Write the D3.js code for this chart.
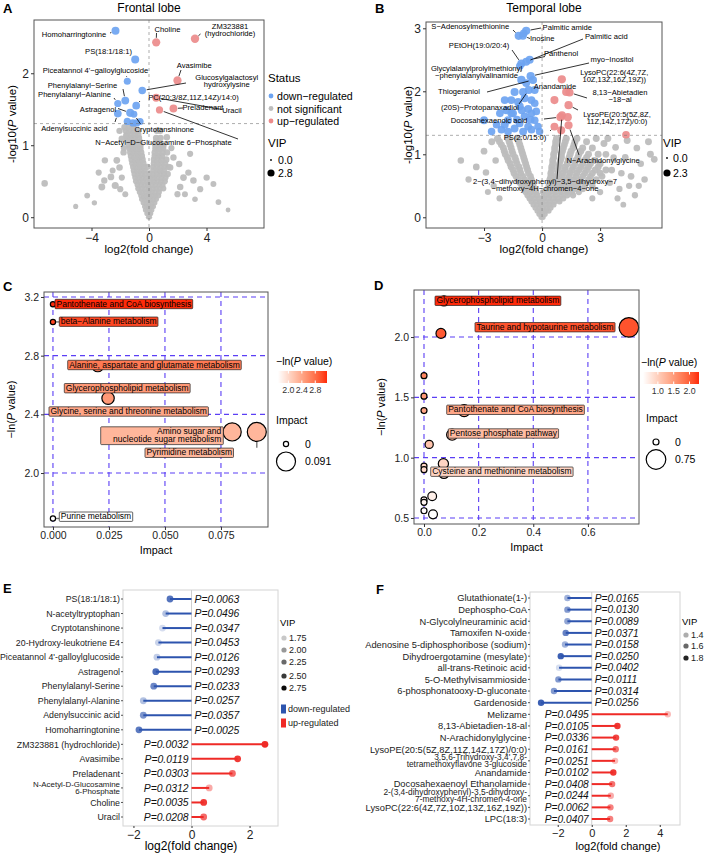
<!DOCTYPE html>
<html>
<head>
<meta charset="utf-8">
<script src="https://cdn.jsdelivr.net/npm/d3@7"></script>
<style>
  body { margin: 0; background: #fff; }
  svg { font-family: "Liberation Sans", Arial, sans-serif; }
</style>
</head>
<body>
<svg id="fig" width="705" height="855"></svg>
<script>
// ---------- data: A (frontal lobe volcano) ----------
// [log2FC, -log10P, VIP]
const downA = [[-2.33,2.59,2.5],[-0.96,2.19,2.5],[-1.51,1.89,1.9],[-0.47,1.76,2.2],[-1.65,1.62,2.4],[-2.17,1.58,2.0],
  [-0.89,1.55,2.3],[-1.31,1.45,2.6],[-1.05,1.43,1.8],[-2.17,1.44,2.3],[-1.51,1.33,2.0],[-1.12,1.31,2.1],[-0.62,1.33,1.9],[-0.85,1.31,2.0]];
const upA = [[0.5,2.43,2.7],[3.2,2.48,2.8],[1.98,1.90,2.7],[0.5,1.66,2.4],[1.70,1.51,2.4],[0.73,1.49,2.0]];
// grey cloud rows: [-log10P, VIP, log2FC values]
const greyRowsA = [
  [0.00,0.8,[-0.05,0.05]],[0.05,0.9,[-0.15,0,0.12]],[0.10,0.9,[-0.25,-0.1,0.05,0.2]],[0.15,1.0,[-0.3,-0.15,0,0.15,0.3]],
  [0.20,1.0,[-0.4,-0.2,0,0.2,0.4]],[0.25,1.1,[-0.5,-0.3,-0.1,0.1,0.3,0.5]],[0.30,1.2,[-0.55,-0.35,-0.15,0.05,0.25,0.45,0.65]],
  [0.35,1.2,[-0.65,-0.45,-0.2,0,0.2,0.45,0.7]],[0.40,1.3,[-0.75,-0.5,-0.25,0,0.25,0.5,0.75,1.0]],
  [0.45,1.3,[-0.8,-0.55,-0.3,-0.05,0.2,0.45,0.7,0.95]],[0.50,1.4,[-0.9,-0.65,-0.4,-0.15,0.1,0.35,0.6,0.85,1.1]],
  [0.55,1.4,[-0.95,-0.7,-0.45,-0.2,0.1,0.35,0.6,0.85,1.15]],[0.60,1.5,[-1.0,-0.75,-0.5,-0.25,0.05,0.3,0.55,0.8,1.05,1.3]],
  [0.65,1.5,[-1.05,-0.8,-0.55,-0.3,0.3,0.55,0.8,1.05]],[0.70,1.5,[-1.1,-0.85,-0.6,-0.35,-0.1,0.3,0.55,0.8,1.1,1.35]],
  [0.75,1.6,[-1.15,-0.9,-0.65,-0.4,0.35,0.6,0.85,1.1]],[0.80,1.6,[-1.2,-0.95,-0.7,-0.45,0.35,0.6,0.9,1.2]],
  [0.85,1.6,[-1.25,-1.0,-0.75,-0.5,0.4,0.65,0.9]],[0.90,1.6,[-1.3,-1.05,-0.8,-0.55,0.4,0.65,0.95,1.25]],
  [0.95,1.6,[-1.35,-1.1,-0.85,-0.6,0.45,0.7]],[1.00,1.6,[-1.4,-1.15,-0.9,-0.6,0.45,0.75,1.0]],
  [1.05,1.6,[-1.45,-1.2,-0.95,-0.65,0.5]],[1.10,1.6,[-1.5,-1.25,-1.0,-0.7,0.5,0.8]],[1.15,1.6,[-1.55,-1.3,-1.0,-0.75]],
  [1.20,1.6,[-1.6,-1.35,-1.05,-0.75,0.55]],[1.25,1.6,[-1.7,-1.4,-1.1]]
];
const greyOutA = [[-7.26,0.47,1.6],[-3.28,0.42,1.8],[-3.11,0.51,1.5],[-2.65,0.56,1.7],[-2.35,0.44,1.9],[-2.05,0.69,1.6],
  [-1.89,0.55,1.4],[-2.24,0.79,1.7],[-2.53,0.65,1.3],[-1.77,0.9,1.5],[-1.89,1.09,1.6],[-1.75,0.96,1.4],[-2.05,1.2,1.5],
  [-1.6,1.13,1.3],[2.4,0.55,1.7],[2.74,0.62,1.5],[3.09,0.51,1.6],[3.56,0.39,1.4],[4.01,0.55,1.5],[4.48,0.46,1.3],
  [4.83,0.21,1.2],[2.17,0.42,1.6],[1.98,0.32,1.4],[2.5,0.32,1.3],[1.47,0.69,1.6],[1.70,0.83,1.5],[1.24,1.11,1.6],
  [0.99,0.96,1.5],[0.78,1.2,1.6],[1.56,0.96,1.4],[-3.07,0.79,1.5],[-3.5,0.62,1.4],[-1.65,0.32,1.3],[-2.0,0.39,1.4],
  [2.86,0.88,1.4],[2.1,0.74,1.5],[-1.12,1.27,1.5],[-4.3,0.3,1.2],[-3.8,0.2,1.0],[3.2,0.25,1.1],[-5.1,0.15,0.9],[5.5,0.1,0.8]];

// ---------- data: B (temporal lobe volcano) ----------
const downB = [[-1.21,2.88,2.1],[-0.82,2.96,2.2],[-0.99,2.88,2.0],[-1.07,2.44,2.1],[-0.82,2.47,2.0],[-0.64,2.50,2.1],
  [-0.59,2.24,2.2],[-1.15,2.40,1.9],[-0.47,2.18,2.1],[-0.69,2.02,2.1],[-0.95,2.92,1.9],
  [-3.0,1.54,2.0],[-2.1,1.39,1.9],[-1.93,1.47,2.0],[-1.76,1.54,2.1],[-1.5,1.65,2.0],[-1.16,1.76,2.2],[-1.59,1.86,2.0],
  [-1.42,1.99,2.1],[-1.07,2.18,2.2],[-0.82,2.13,2.0],[-0.9,1.89,2.0],[-0.55,1.86,2.0],[-0.72,1.72,2.1],[-0.38,1.81,1.9],
  [-0.55,1.65,2.0],[-0.9,1.6,2.1],[-1.16,1.49,1.9],[-1.42,1.41,2.0],[-0.72,1.44,2.0],[-0.38,1.54,1.9],[-0.21,1.44,1.8],
  [-0.55,1.39,1.9],[-0.98,1.36,2.0],[-1.76,1.36,1.9],[-2.35,1.47,1.9],[-2.61,1.36,1.8],[-1.59,1.65,2.0],[-1.85,1.7,2.0],
  [-0.3,1.68,1.9],[-0.98,1.99,2.1],[-0.38,2.02,2.0],[-1.93,1.86,2.0],[-1.24,1.83,2.1],[-2.18,1.65,1.9],[-0.13,1.36,1.8],
  [-1.3,1.55,2.0],[-1.05,1.7,2.0],[-0.6,1.55,2.0]];
const upB = [[1.02,2.19,2.2],[1.25,1.99,2.2],[1.42,1.98,2.1],[1.37,1.78,2.2],[0.95,1.59,2.2],[0.64,1.44,2.0],
  [1.37,1.46,2.1],[1.03,1.62,2.0],[0.64,1.86,2.1],[1.33,1.59,2.1],[0.99,1.38,2.1],[4.34,1.31,1.9]];
const greyRowsB = [
  [0.00,0.8,[-0.05,0.05]],[0.05,0.9,[-0.15,0,0.15]],[0.10,0.9,[-0.25,-0.1,0.05,0.2,0.35]],
  [0.15,1.0,[-0.35,-0.15,0.05,0.25,0.45]],[0.20,1.0,[-0.45,-0.25,-0.05,0.2,0.4,0.6]],
  [0.25,1.1,[-0.55,-0.3,-0.1,0.15,0.4,0.65,0.9]],[0.30,1.1,[-0.65,-0.4,-0.15,0.1,0.35,0.6,0.85,1.1]],
  [0.35,1.2,[-0.75,-0.5,-0.25,0.1,0.4,0.7,1.0,1.3,1.6]],[0.40,1.2,[-0.85,-0.6,-0.3,0.05,0.35,0.65,0.95,1.25,1.55,1.9]],
  [0.45,1.3,[-0.95,-0.7,-0.4,0.3,0.6,0.9,1.2,1.5,1.8,2.1]],[0.50,1.3,[-1.05,-0.75,-0.45,0.35,0.65,0.95,1.25,1.55,1.85,2.2,2.6]],
  [0.55,1.3,[-1.15,-0.85,-0.5,0.4,0.7,1.0,1.3,1.6,1.9,2.3]],[0.60,1.4,[-1.25,-0.9,-0.55,0.4,0.7,1.0,1.3,1.65,2.0,2.4,2.8]],
  [0.65,1.4,[-1.35,-1.0,-0.6,0.45,0.75,1.05,1.4,1.75,2.1,2.5,3.1]],[0.70,1.4,[-1.45,-1.1,-0.7,0.45,0.8,1.1,1.45,1.8,2.2,2.6,3.0]],
  [0.75,1.5,[-1.5,-1.15,-0.75,0.5,0.85,1.2,1.55,1.9,2.3,2.75,3.3]],[0.80,1.5,[-1.6,-1.2,-0.8,0.5,0.85,1.2,1.6,2.0,2.4,2.9]],
  [0.85,1.5,[-1.65,-1.3,-0.85,0.55,0.9,1.3,1.7,2.1,2.5,3.0]],[0.90,1.5,[-1.75,-1.35,-0.9,0.55,0.95,1.35,1.75,2.2,2.7]],
  [0.95,1.5,[-1.8,-1.4,-0.95,0.6,1.0,1.4,1.85,2.3]],[1.00,1.5,[-1.9,-1.5,-1.0,0.6,1.0,1.45,1.9,2.4,2.9]],
  [1.05,1.5,[-1.95,-1.55,-1.05,0.65,1.05,1.5,2.0]],[1.10,1.5,[-2.0,-1.6,-1.1,0.65,1.1,1.6,2.1,2.6]],
  [1.15,1.5,[-2.1,-1.65,-1.15,0.7,1.15,1.65]],[1.20,1.5,[-2.2,-1.7,-1.2,0.7,1.2,1.7,2.3]],[1.25,1.6,[-2.3,-1.75,-1.25,0.75,1.25,1.8]]
];
const greyOutB = [[3.6,0.75,1.4],[4.1,0.7,1.3],[4.6,0.65,1.4],[5.1,0.85,1.3],[5.6,1.0,1.5],[5.8,0.92,1.4],[4.4,1.22,1.5],
  [3.8,1.11,1.4],[3.2,1.17,1.5],[3.5,0.55,1.3],[4.0,0.45,1.2],[4.8,0.35,1.2],[5.3,0.6,1.3],[3.0,0.4,1.2],[2.6,0.3,1.1],
  [4.3,0.95,1.4],[3.7,0.95,1.3],[4.9,1.1,1.4],[2.8,1.25,1.5],[3.3,1.0,1.4],[5.5,1.2,1.5],[4.5,0.5,1.2],[3.9,0.3,1.1],
  [-3.4,0.8,1.4],[-2.9,0.71,1.3],[-3.8,0.6,1.2],[-2.5,0.5,1.2],[-2.2,0.3,1.1],[-3.0,1.05,1.4],[-2.6,1.2,1.5],
  [-2.4,0.9,1.3],[-4.2,0.9,1.3],[-2.8,0.4,1.1],[3.4,1.25,1.5],[5.0,0.5,1.2],[4.2,0.2,1.0]];

// ---------- data: C / D (pathway impact) ----------
const pathC = ["Pantothenate and CoA biosynthesis", "beta\u2212Alanine metabolism", "Alanine, aspartate and glutamate metabolism",
  "Glycerophospholipid metabolism", "Glycine, serine and threonine metabolism", "Amino sugar and\nnucleotide sugar metabolism",
  "Pyrimidine metabolism", "Purine metabolism"];
const impactC = [0, 0, 0.020, 0.0246, 0, 0.080, 0.091, 0];
const lnpC = [3.15, 3.03, 2.73, 2.51, 2.41, 2.28, 2.28, 1.69];

const pathD = ["Glycerophospholipid metabolism", "Taurine and hypotaurine metabolism", "", "", "", "",
  "Pantothenate and CoA biosynthesis", "Pentose phosphate pathway", "", "", "", "Cysteine and methionine metabolism",
  "", "", "", "", "", ""];
const impactD = [0.073, 0.75, 0.062, 0, 0, 0, 0.147, 0.103, 0.019, 0, 0, 0.071, 0.073, 0.03, 0, 0, 0, 0.033];
const lnpD = [2.30, 2.08, 2.03, 1.68, 1.51, 1.39, 1.39, 1.19, 1.11, 0.93, 0.90, 0.95, 0.87, 0.68, 0.65, 0.63, 0.56, 0.53];

// ---------- data: E / F (lollipops) ----------
const namesE = ["PS(18:1/18:1)", "N-acetyltryptophan", "Cryptotanshinone", "20-Hydroxy-leukotriene E4",
  "Piceatannol 4'-galloylglucoside", "Astragenol", "Phenylalanyl-Serine", "Phenylalanyl-Alanine", "Adenylsuccinic acid",
  "Homoharringtonine", "ZM323881 (hydrochloride)", "Avasimibe", "Preladenant", "N-Acetyl-D-Glucosamine\n6-Phosphate",
  "Choline", "Uracil"];
const fcE = [-0.74, -0.89, -1.0, -1.14, -1.19, -1.23, -1.3, -1.66, -1.66, -1.81, 2.53, 1.59, 1.41, 0.61, 0.42, 0.42];
const pE = ["0.0063", "0.0496", "0.0347", "0.0453", "0.0126", "0.0293", "0.0233", "0.0257", "0.0357", "0.0025",
  "0.0032", "0.0119", "0.0303", "0.0312", "0.0035", "0.0208"];
const vipE = [2.55, 1.95, 1.72, 1.8, 1.85, 2.6, 2.4, 1.95, 2.3, 2.5, 2.8, 2.7, 2.4, 2.0, 2.7, 2.4];
const vipTicksE = [1.75, 2.00, 2.25, 2.50, 2.75];

const namesF = ["Glutathionate(1-)", "Dephospho-CoA", "N-Glycolylneuraminic acid", "Tamoxifen N-oxide",
  "Adenosine 5-diphosphoribose (sodium)", "Dihydroergotamine (mesylate)", "all-trans-Retinoic acid",
  "5-O-Methylvisammioside", "6-phosphonatooxy-D-gluconate", "Gardenoside", "Melizame", "8,13-Abietadien-18-al",
  "N-Arachidonylglycine", "LysoPE(20:5(5Z,8Z,11Z,14Z,17Z)/0:0)", "3,5,6-Trihydroxy-3,4',7,8-\ntetramethoxyflavone 3-glucoside",
  "Anandamide", "Docosahexaenoyl Ethanolamide", "2-(3,4-dihydroxyphenyl)-3,5-dihydroxy-\n7-methoxy-4H-chromen-4-one",
  "LysoPC(22:6(4Z,7Z,10Z,13Z,16Z,19Z))", "LPC(18:3)"];
const fcF = [-1.43, -1.43, -1.43, -1.53, -1.57, -1.82, -1.92, -1.96, -2.22, -2.98, 4.47, 1.51, 1.43, 1.41, 1.37, 1.27, 1.2, 1.12, 1.1, 1.08];
const pF = ["0.0165", "0.0130", "0.0089", "0.0371", "0.0158", "0.0250", "0.0402", "0.0111", "0.0314", "0.0256",
  "0.0495", "0.0105", "0.0336", "0.0161", "0.0251", "0.0102", "0.0408", "0.0244", "0.0062", "0.0407"];
const vipF = [1.5, 1.6, 1.55, 1.7, 1.5, 1.85, 1.3, 1.6, 1.6, 1.85, 1.4, 1.85, 1.8, 1.65, 1.4, 1.85, 1.65, 1.45, 1.6, 1.6];
const vipTicksF = [1.4, 1.6, 1.8];

// ---------- drawing ----------
const svg = d3.select('#fig');
svg.append('rect').attr('width', 705).attr('height', 855).attr('fill', '#fff');

function text(g, x, y, s, fs, opt = {}) {
  return g.append('text').attr('x', x).attr('y', y).attr('font-size', fs)
    .attr('text-anchor', opt.anchor || 'start').attr('fill', opt.fill || '#000')
    .attr('font-weight', opt.weight || null).attr('font-style', opt.style || null)
    .text(s);
}

function plogTitle(g, x, y, fs, pre) {
  // "-log10(P value)" with italic P, rotated
  const t = g.append('text').attr('x', x).attr('y', y).attr('font-size', fs).attr('text-anchor', 'middle')
    .attr('transform', `rotate(-90,${x},${y})`);
  t.append('tspan').text(pre + '(');
  t.append('tspan').attr('font-style', 'italic').text('P');
  t.append('tspan').text(' value)');
  return t;
}

function styleAxis(ax, fs) {
  ax.select('.domain').remove();
  ax.selectAll('text').attr('font-size', fs).attr('fill', '#222').attr('font-family', null);
  ax.selectAll('line').attr('stroke', '#333');
}

function volcano(o) {
  const [L, T, R, B] = o.box;
  const g = svg.append('g');
  const x = d3.scaleLinear().domain(o.xDom).range([L, R]);
  const y = d3.scaleLinear().domain(o.yDom).range([B, T]);
  const r = d3.scaleSqrt().domain([0, o.vipMax]).range([0.4, 4.2]);

  const grey = o.greyRows.flatMap(([yy, v, xs]) => xs.map(xx => [xx, yy, v])).concat(o.greyOut);
  g.append('g').selectAll('circle').data(grey).join('circle')
    .attr('cx', d => x(d[0])).attr('cy', d => y(d[1])).attr('r', d => r(d[2]))
    .attr('fill', '#bdbdbd').attr('fill-opacity', 0.95);
  g.append('g').selectAll('circle').data(o.down).join('circle')
    .attr('cx', d => x(d[0])).attr('cy', d => y(d[1])).attr('r', d => r(d[2]))
    .attr('fill', '#6ea4f1').attr('fill-opacity', 0.92);
  g.append('g').selectAll('circle').data(o.up).join('circle')
    .attr('cx', d => x(d[0])).attr('cy', d => y(d[1])).attr('r', d => r(d[2]))
    .attr('fill', '#ec8b8b').attr('fill-opacity', 0.92);

  g.append('line').attr('x1', x(0)).attr('x2', x(0)).attr('y1', T).attr('y2', B)
    .attr('stroke', '#777').attr('stroke-width', 0.6).attr('stroke-dasharray', '3,3');
  g.append('line').attr('x1', L).attr('x2', R).attr('y1', y(-Math.log10(0.05))).attr('y2', y(-Math.log10(0.05)))
    .attr('stroke', '#777').attr('stroke-width', 0.6).attr('stroke-dasharray', '3,3');

  o.labels.forEach(l => {
    const tx = x(l.pt[0]), ty = y(l.pt[1]);
    if (l.from) {
      const dx = tx - l.from[0], dy = ty - l.from[1], len = Math.hypot(dx, dy);
      const k = Math.max(0, len - 4.5) / len;
      g.append('line').attr('x1', l.from[0]).attr('y1', l.from[1])
        .attr('x2', l.from[0] + dx * k).attr('y2', l.from[1] + dy * k)
        .attr('stroke', '#000').attr('stroke-width', 0.8);
    }
    const t = g.append('text').attr('font-size', 7.6).attr('text-anchor', 'middle');
    l.text.split('\n').forEach((s, i) =>
      t.append('tspan').attr('x', l.pos[0]).attr('y', l.pos[1] + i * 7.2 + 2.4).text(s));
  });

  g.append('rect').attr('x', L).attr('y', T).attr('width', R - L).attr('height', B - T)
    .attr('fill', 'none').attr('stroke', '#555').attr('stroke-width', 1);

  const ax = g.append('g').attr('transform', `translate(0,${B})`)
    .call(d3.axisBottom(x).tickValues(o.xTicks).tickSize(3).tickPadding(2).tickFormat(d3.format('d')));
  styleAxis(ax, 12);
  const ay = g.append('g').attr('transform', `translate(${L},0)`)
    .call(d3.axisLeft(y).tickValues(o.yTicks).tickSize(3).tickPadding(2).tickFormat(d3.format('d')));
  styleAxis(ay, 12);

  text(g, (L + R) / 2, 11.5, o.title, 12, { anchor: 'middle' });
  text(g, (L + R) / 2, 253, 'log2(fold change)', 11.5, { anchor: 'middle' });
  plogTitle(g, o.yTitleX, (T + B) / 2, 11.5, '-log10');
  return { g, r };
}

// ---- A
const A = volcano({
  box: [34, 20, 264, 228], xDom: [-8, 8], yDom: [-0.15, 2.74], vipMax: 2.8,
  xTicks: [-4, 0, 4], yTicks: [0, 1, 2], title: 'Frontal lobe', yTitleX: 16,
  greyRows: greyRowsA, greyOut: greyOutA, down: downA, up: upA,
  labels: [
    { text: 'Homoharringtonine', pos: [74, 35], from: [110, 33], pt: downA[0] },
    { text: 'PS(18:1/18:1)', pos: [108.5, 52], from: [133, 57], pt: downA[1] },
    { text: "Piceatannol 4'\u2212galloylglucoside", pos: [95.5, 71], from: [126.5, 76], pt: downA[2] },
    { text: 'Glucosylgalactosyl\nhydroxylysine', pos: [226.7, 77.8], from: [186, 83], pt: downA[3] },
    { text: 'Phenylalanyl\u2212Serine', pos: [82.5, 85.7], from: [123, 89], pt: downA[4] },
    { text: 'Phenylalanyl\u2212Alanine', pos: [74.5, 95], from: [114, 98], pt: downA[5] },
    { text: 'PC(20:3/8Z,11Z,14Z)/14:0)', pos: [193.5, 97.7], from: [140, 101], pt: downA[6] },
    { text: 'Astragenol', pos: [98, 109.3], from: [118, 108.5], pt: downA[7] },
    { text: 'Adenylsuccinic acid', pos: [74.3, 128.3], from: [115, 122], pt: downA[9] },
    { text: 'Cryptotanshinone', pos: [164.3, 129.3], from: [140.5, 124], pt: downA[8] },
    { text: 'N\u2212Acetyl\u2212D\u2212Glucosamine 6\u2212Phosphate', pos: [163.5, 142.3], from: [238, 139], pt: upA[5] },
    { text: 'Choline', pos: [167.5, 29.3], from: [156.5, 33], pt: upA[0] },
    { text: 'ZM323881\n(hydrochloride)', pos: [230, 26.8], from: [200.5, 34], pt: upA[1] },
    { text: 'Avasimibe', pos: [194.3, 65.7], from: [181, 70], pt: upA[2] },
    { text: 'Preladenant', pos: [203, 107.3], from: [183, 108], pt: upA[4] },
    { text: 'Uracil', pos: [232, 110.7], from: [222, 109.5], pt: upA[3] }
  ]
});
{
  const g = A.g;
  text(g, 268, 82, 'Status', 11.5);
  [['down\u2212regulated', '#6ea4f1'], ['not significant', '#bdbdbd'], ['up\u2212regulated', '#ec8b8b']].forEach((d, i) => {
    g.append('circle').attr('cx', 271).attr('cy', 96 + i * 12.5).attr('r', 2.4).attr('fill', d[1]);
    text(g, 277, 100 + i * 12.5, d[0], 10.6);
  });
  text(g, 268, 147, 'VIP', 11.5);
  [0, 2.8].forEach((v, i) => {
    g.append('circle').attr('cx', 271).attr('cy', 160 + i * 13).attr('r', Math.max(0.9, A.r(v) * 0.85)).attr('fill', '#000');
    text(g, 278, 164 + i * 13, v.toFixed(1), 10.6);
  });
}

// ---- B
const Bv = volcano({
  box: [426, 22, 662, 228], xDom: [-6, 6.2], yDom: [-0.17, 3.1], vipMax: 2.3,
  xTicks: [-3, 0, 3], yTicks: [0, 1, 2, 3], title: 'Temporal lobe', yTitleX: 412,
  greyRows: greyRowsB, greyOut: greyOutB, down: downB, up: upB,
  labels: [
    { text: 'S\u2212Adenosylmethionine', pos: [470.3, 26.7], from: [513, 30], pt: downB[0] },
    { text: 'Palmitic amide', pos: [567.3, 27.3], from: [541, 28], pt: downB[1] },
    { text: 'Inosine', pos: [542.2, 38.3], from: [530, 38.5], pt: downB[2] },
    { text: 'Palmitic acid', pos: [606.3, 36.7], from: [583, 39], pt: downB[4] },
    { text: 'PEtOH(19:0/20:4)', pos: [479, 46], from: [512, 50], pt: downB[3] },
    { text: 'Panthenol', pos: [561, 54], from: [545, 56.5], pt: downB[5] },
    { text: 'myo\u2212Inositol', pos: [612, 60], from: [589, 63], pt: downB[6] },
    { text: 'Glycylalanylprolylmethionyl\n\u2212phenylalanylvalinamide', pos: [476.5, 68.8], from: [521, 72], pt: downB[7] },
    { text: 'LysoPC(22:6(4Z,7Z,\n10Z,13Z,16Z,19Z))', pos: [614.3, 72.2], from: null, pt: upB[0] },
    { text: 'Thiogeraniol', pos: [459, 91.7], from: [487, 92], pt: downB[8] },
    { text: 'Anandamide', pos: [555, 86.7], from: null, pt: upB[1] },
    { text: '8,13\u2212Abietadien\n\u221218\u2212al', pos: [620, 92.2], from: [587, 98], pt: upB[2] },
    { text: '(20S)\u2212Protopanaxadiol', pos: [480, 107.3], from: [519, 104], pt: downB[9] },
    { text: 'LysoPE(20:5(5Z,8Z,\n11Z,14Z,17Z)/0:0)', pos: [617, 114.6], from: [578, 110], pt: upB[3] },
    { text: 'Docosahexaenoic acid', pos: [489, 120.7], from: [544, 119], pt: upB[4] },
    { text: 'PS(2:0/15:0)', pos: [525, 137.3], from: [550, 131], pt: upB[5] },
    { text: 'N\u2212Arachidonylglycine', pos: [603, 160.7], from: [579, 155], pt: upB[6] },
    { text: '2\u2212(3,4\u2212dihydroxyphenyl)\u22123,5\u2212dihydroxy\u22127\n\u2212methoxy\u22124H\u2212chromen\u22124\u2212one', pos: [545, 181.8], from: [557, 179], pt: upB[7] }
  ]
});
{
  const g = Bv.g;
  text(g, 663, 147, 'VIP', 11.5);
  [0, 2.3].forEach((v, i) => {
    g.append('circle').attr('cx', 667).attr('cy', 158 + i * 15).attr('r', Math.max(0.9, Bv.r(v) * 0.85)).attr('fill', '#000');
    text(g, 673, 162 + i * 15, v.toFixed(1), 10.6);
  });
}

// ---------- bubble plots ----------
function bubble(o) {
  const [L, T, R, B] = o.box;
  const g = svg.append('g');
  const x = d3.scaleLinear().domain(o.xDom).range([L, R]);
  const y = d3.scaleLinear().domain(o.yDom).range([B, T]);
  const lnExt = d3.extent(o.lnp);
  const col = d3.scaleLinear().domain(lnExt).range(['#ffffff', '#ff2a0a']).interpolate(d3.interpolateLab);
  const r = d3.scaleSqrt().domain([0, d3.max(o.impact)]).range([o.rMin, o.rMax]);

  const grid = g.append('g').attr('stroke', '#5b3ff5').attr('stroke-width', 1.1).attr('stroke-dasharray', '5,4');
  o.xTicks.forEach(v => grid.append('line').attr('x1', x(v)).attr('x2', x(v)).attr('y1', T).attr('y2', B));
  o.yTicks.forEach(v => grid.append('line').attr('x1', L).attr('x2', R).attr('y1', y(v)).attr('y2', y(v)));

  const pts = o.impact.map((v, i) => ({ x: x(v), y: y(o.lnp[i]), r: r(v), c: col(o.lnp[i]), name: o.names[i] }));
  // connectors first
  o.labels.forEach(l => {
    const p = pts[l.i];
    const w = l.w || 150;
    const bx = Math.max(l.left, Math.min(p.x, l.left + w)), by = Math.max(l.cy - 5, Math.min(p.y, l.cy + 5));
    if (Math.hypot(bx - p.x, by - p.y) > p.r + 1.5)
      g.append('line').attr('x1', p.x).attr('y1', p.y).attr('x2', bx).attr('y2', by)
        .attr('stroke', '#777').attr('stroke-width', 1.4);
  });
  g.append('g').selectAll('circle').data(pts).join('circle')
    .attr('cx', d => d.x).attr('cy', d => d.y).attr('r', d => d.r)
    .attr('fill', d => d.c).attr('stroke', '#000').attr('stroke-width', 1.2);
  o.labels.forEach(l => {
    const p = pts[l.i];
    const lines = p.name.split('\n');
    const h = lines.length * 8.4 + 1;
    const lg = g.append('g');
    const rect = lg.append('rect').attr('y', l.cy - h / 2).attr('height', h).attr('fill', p.c)
      .attr('stroke', '#222').attr('stroke-width', 0.7).attr('rx', 0.8);
    const t = lg.append('text').attr('font-size', 8.5).attr('text-anchor', l.right ? 'end' : 'start');
    lines.forEach((s, k) => t.append('tspan').attr('x', l.right ? l.left + l.w - 2 : l.left + 1.5)
      .attr('y', l.cy - h / 2 + 7.2 + k * 8.4).text(s));
    const tw = l.w || (t.node().getComputedTextLength() + 3);
    rect.attr('x', l.left).attr('width', tw);
  });

  g.append('rect').attr('x', L).attr('y', T).attr('width', R - L).attr('height', B - T)
    .attr('fill', 'none').attr('stroke', '#555').attr('stroke-width', 1);
  const ax = g.append('g').attr('transform', `translate(0,${B})`)
    .call(d3.axisBottom(x).tickValues(o.xTicks).tickSize(3).tickPadding(2).tickFormat(d3.format(o.xFmt)));
  styleAxis(ax, 10.5);
  const ay = g.append('g').attr('transform', `translate(${L},0)`)
    .call(d3.axisLeft(y).tickValues(o.yTicks).tickSize(3).tickPadding(2).tickFormat(d3.format('.1f')));
  styleAxis(ay, 10.5);
  text(g, (L + R) / 2, B + 27, 'Impact', 10.8, { anchor: 'middle' });
  plogTitle(g, o.yTitleX, (T + B) / 2, 10.8, '\u2212ln');

  // colour bar legend
  const lg = o.leg;
  const gid = 'grad' + o.id;
  const grad = svg.append('defs').append('linearGradient').attr('id', gid);
  d3.range(0, 1.0001, 0.1).forEach(t => grad.append('stop').attr('offset', t)
    .attr('stop-color', col(lnExt[0] + t * (lnExt[1] - lnExt[0]))));
  const lt = g.append('text').attr('x', lg.x).attr('y', lg.y).attr('font-size', 10.5);
  lt.append('tspan').text('\u2212ln(');
  lt.append('tspan').attr('font-style', 'italic').text('P');
  lt.append('tspan').text(' value)');
  const bs = d3.scaleLinear().domain(lnExt).range([lg.x + lg.bx, lg.x + lg.bx + lg.bw]);
  g.append('rect').attr('x', bs.range()[0]).attr('y', lg.y + 6).attr('width', lg.bw).attr('height', 12).attr('fill', `url(#${gid})`);
  o.legTicks.forEach(v => {
    g.append('line').attr('x1', bs(v)).attr('x2', bs(v)).attr('y1', lg.y + 6).attr('y2', lg.y + 8.5).attr('stroke', '#fff');
    g.append('line').attr('x1', bs(v)).attr('x2', bs(v)).attr('y1', lg.y + 15.5).attr('y2', lg.y + 18).attr('stroke', '#fff');
    text(g, bs(v), lg.y + 28, d3.format('.1f')(v), 8.8, { anchor: 'middle', fill: '#333' });
  });
  text(g, lg.x + lg.sx - 2, lg.sy, 'Impact', 10.5);
  [0, d3.max(o.impact)].forEach((v, i) => {
    const cy = lg.sy + 20 + i * 17.5;
    g.append('circle').attr('cx', lg.x + lg.sx + 8).attr('cy', cy).attr('r', r(v)).attr('fill', '#fff')
      .attr('stroke', '#000').attr('stroke-width', 1.2);
    text(g, lg.x + lg.sx + 27, cy + 3.5, o.sizeLabels[i], 10.5);
  });
}

bubble({
  id: 'C', box: [44, 292, 268, 527], xDom: [-0.004, 0.096], yDom: [1.632, 3.234],
  xTicks: [0, 0.025, 0.05, 0.075], yTicks: [2.0, 2.4, 2.8, 3.2], xFmt: '.3f', yTitleX: 15,
  impact: impactC, lnp: lnpC, names: pathC, rMin: 2.6, rMax: 9.5,
  legTicks: [2.0, 2.4, 2.8], sizeLabels: ['0', '0.091'],
  leg: { x: 276, y: 365, bx: 2, bw: 49, sx: 2, sy: 424 },
  labels: [
    { i: 0, left: 55, cy: 304 }, { i: 1, left: 59.3, cy: 321.7 }, { i: 2, left: 67.7, cy: 365 },
    { i: 3, left: 64.3, cy: 388.2 }, { i: 4, left: 49, cy: 411.5 }, { i: 5, left: 100.7, cy: 435.7, right: true, w: 122.6 },
    { i: 6, left: 145, cy: 452.8 }, { i: 7, left: 59.3, cy: 516.7 }
  ]
});
bubble({
  id: 'D', box: [414, 290, 639, 524], xDom: [-0.0366, 0.787], yDom: [0.45, 2.39],
  xTicks: [0, 0.2, 0.4, 0.6], yTicks: [0.5, 1.0, 1.5, 2.0], xFmt: '.1f', yTitleX: 385,
  impact: impactD, lnp: lnpD, names: pathD, rMin: 3, rMax: 9.8,
  legTicks: [1.0, 1.5, 2.0], sizeLabels: ['0', '0.75'],
  leg: { x: 641, y: 366, bx: 2, bw: 56, sx: 7, sy: 422 },
  labels: [
    { i: 0, left: 435, cy: 300.8 }, { i: 1, left: 475, cy: 327.2 }, { i: 6, left: 446.7, cy: 409.8 },
    { i: 7, left: 448.3, cy: 433.5 }, { i: 11, left: 430.7, cy: 471.7 }
  ]
});

// ---------- lollipops ----------
function lollipop(o) {
  const [L, T, R, B] = o.box;
  const g = svg.append('g');
  const x = d3.scaleLinear().domain(o.xDom).range([L, R]);
  const y = d3.scalePoint().domain(o.names).range(o.rows);
  const alpha = d3.scaleLinear().domain(o.vipDom).range([0.12, 1]).clamp(true);
  const blue = '#2d54ae', red = '#ef2a26';

  g.append('rect').attr('x', L).attr('y', T).attr('width', R - L).attr('height', B - T)
    .attr('fill', 'none').attr('stroke', '#d4d4d4').attr('stroke-width', 1);
  g.append('line').attr('x1', x(0)).attr('x2', x(0)).attr('y1', T).attr('y2', B)
    .attr('stroke', '#cfcfcf').attr('stroke-width', 1);

  o.names.forEach((n, i) => {
    const v = o.fc[i], yy = y(n), c = v < 0 ? blue : red;
    g.append('line').attr('x1', x(0)).attr('x2', x(v)).attr('y1', yy).attr('y2', yy)
      .attr('stroke', c).attr('stroke-width', 2);
    g.append('circle').attr('cx', x(v)).attr('cy', yy).attr('r', o.r).attr('fill', c).attr('fill-opacity', alpha(o.vip[i]));
    g.append('text').attr('font-size', o.pfs).attr('font-style', 'italic').attr('fill', '#111')
      .attr('text-anchor', v < 0 ? 'start' : 'end').attr('x', v < 0 ? x(0) + 3 : x(0) - 3).attr('y', yy + o.pfs * 0.36)
      .text('P=' + o.p[i]);
    const lines = n.split('\n');
    const multi = lines.length > 1;
    const fs = multi ? o.lfs * 0.9 : o.lfs;
    const t = g.append('text').attr('font-size', fs).attr('text-anchor', 'end').attr('fill', '#222');
    lines.forEach((s, k) => t.append('tspan').attr('x', L - 3)
      .attr('y', yy + fs * 0.36 + (k - (lines.length - 1) / 2) * o.lh).text(s));
    g.append('line').attr('x1', L - 2).attr('x2', L).attr('y1', yy).attr('y2', yy).attr('stroke', '#555');
  });

  const ax = g.append('g').attr('transform', `translate(0,${B})`)
    .call(d3.axisBottom(x).tickValues(o.xTicks).tickSize(2).tickPadding(2).tickFormat(d3.format('d')));
  styleAxis(ax, o.tfs);
  text(g, o.xTitle[0], o.xTitle[1], 'log2(fold change)', o.tfs, { anchor: 'middle' });

  const lg = o.leg;
  text(g, lg.x, lg.y, 'VIP', 9.5);
  o.vipTicks.forEach((v, i) => {
    const cy = lg.ys[i];
    g.append('circle').attr('cx', lg.x + 4).attr('cy', cy).attr('r', 2.6).attr('fill', '#000').attr('fill-opacity', alpha(v));
    text(g, lg.x + 9, cy + 3.2, o.vipFmt(v), 9, { fill: '#222' });
  });
  if (lg.status) {
    [['down-regulated', blue], ['up-regulated', red]].forEach((d, i) => {
      const yy = lg.status + i * 14;
      g.append('rect').attr('x', lg.x + 1).attr('y', yy - 4.5).attr('width', 5).attr('height', 9).attr('fill', d[1]);
      text(g, lg.x + 8, yy + 3.2, d[0], 9, { fill: '#222' });
    });
  }
}

lollipop({
  box: [123, 590, 278, 826], xDom: [-2.36, 2.98], rows: [599, 817], xTicks: [-2, 0, 2],
  names: namesE, fc: fcE, p: pE, vip: vipE, vipDom: [1.62, 2.8], r: 3.4,
  pfs: 10.4, lfs: 8.8, lh: 7.2, tfs: 12, xTitle: [191, 850],
  vipTicks: vipTicksE, vipFmt: d3.format('.2f'),
  leg: { x: 280, y: 626, ys: [638, 650, 662, 676, 688], status: 709 }
});
lollipop({
  box: [530, 592, 680, 825], xDom: [-3.63, 5.19], rows: [598, 819], xTicks: [-2, 0, 2, 4],
  names: namesF, fc: fcF, p: pF, vip: vipF, vipDom: [1.25, 1.9], r: 3.2,
  pfs: 10.2, lfs: 9.3, lh: 6.9, tfs: 11, xTitle: [618, 850],
  vipTicks: vipTicksF, vipFmt: d3.format('.1f'),
  leg: { x: 682, y: 625, ys: [635, 646, 658] }
});

// panel letters
[['A', 3, 13], ['B', 375, 13], ['C', 3, 291], ['D', 374, 290], ['E', 3, 593], ['F', 376, 594]].forEach(d =>
  text(svg, d[1], d[2], d[0], 13, { weight: 'bold' }));
</script>
</body>
</html>
